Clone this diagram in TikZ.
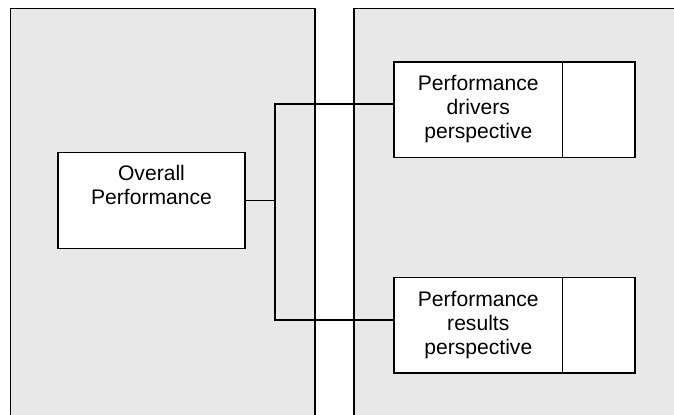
\documentclass[tikz,border=0pt]{standalone}
\usepackage{fontspec}
\setmainfont{Liberation Sans}
\usetikzlibrary{positioning}

\tikzset{
  panel/.style={draw,line width=0.8pt,fill=black!9},
  box/.style={draw,line width=0.8pt,fill=white,inner sep=0pt,outer sep=0pt,align=center,minimum height=47.8pt},
  link/.style={line width=0.8pt},
}

\begin{document}
\begin{tikzpicture}[x=0.5pt,y=-0.5pt,font=\fontsize{10.55}{12}\selectfont,node distance=60pt]
\useasboundingbox (0,0) rectangle (674,414);
\clip (0,0) rectangle (674,414);
% the two grey panels
\path[panel] (10.3,8.5) rectangle (315,440);
\path[panel] (353.8,8.5) rectangle (700,440);
% boxes
\node[box,minimum width=93.5pt,minimum height=48pt] (overall) at (151.5,200.5) {Overall\\Performance\\\strut};
\node[box,minimum width=84.3pt] (drivers) at (478.3,109.5) {Performance\\drivers\\perspective};
\node[box,minimum width=36.2pt,right=0pt of drivers] (driversx) {};
\node[box,minimum width=84.3pt,below=of drivers] (results) {Performance\\results\\perspective};
\node[box,minimum width=36.2pt,right=0pt of results] (resultsx) {};
% links
\coordinate (fork) at (275,200.5);
\draw[link] (overall.east) -- (fork);
\draw[link] ([yshift=2.75pt]drivers.west) -| (fork) |- ([yshift=2.6pt]results.west);
\end{tikzpicture}
\end{document}
